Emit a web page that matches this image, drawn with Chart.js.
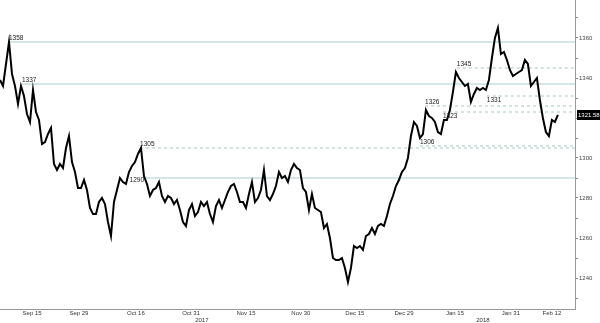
<!DOCTYPE html>
<html>
<head>
<meta charset="utf-8">
<script src="https://cdn.jsdelivr.net/npm/chart.js@4"></script>
<style>
  html, body { margin: 0; padding: 0; background: #fff; }
  #wrap { width: 600px; height: 323px; }
</style>
</head>
<body>
<div id="wrap"><canvas id="priceChart"></canvas></div>
<script>
// Price samples, evenly spaced in trading time (Sep 2017 - Feb 2018)
const prices = [
  1339, 1336, 1347, 1358, 1342, 1336, 1327, 1336, 1331, 1322,
  1318, 1334, 1323, 1319, 1307, 1308, 1312, 1315, 1297, 1294,
  1297, 1295, 1305, 1311, 1298, 1293, 1285, 1285, 1289, 1284,
  1275, 1272, 1272, 1278, 1280, 1277, 1268, 1261, 1278, 1284,
  1290, 1288, 1287, 1293, 1296, 1298, 1302, 1305, 1291, 1287,
  1281, 1284, 1285, 1288, 1281, 1278, 1281, 1280, 1277, 1279,
  1274, 1268, 1266, 1274, 1277, 1271, 1273, 1278, 1276, 1278,
  1272, 1268, 1276, 1279, 1275, 1279, 1283, 1286, 1287, 1283,
  1278, 1278, 1275, 1282, 1288, 1278, 1280, 1284, 1294, 1281,
  1279, 1282, 1286, 1293, 1290, 1291, 1288, 1294, 1297, 1295,
  1294, 1285, 1283, 1274, 1282, 1275, 1274, 1273, 1265, 1267,
  1260, 1250, 1249, 1249, 1250, 1245, 1238, 1245, 1256, 1255,
  1256, 1254, 1261, 1262, 1265, 1262, 1266, 1267, 1266, 1271,
  1277, 1281, 1286, 1289, 1293, 1295, 1300, 1311, 1318, 1316,
  1310, 1312, 1324, 1321, 1320, 1318, 1313, 1312, 1319, 1319,
  1324, 1333, 1343, 1340, 1338, 1336, 1337, 1328, 1332, 1335,
  1334, 1335, 1334, 1339, 1350, 1360, 1365, 1352, 1353, 1349,
  1344, 1341, 1342, 1343, 1344, 1349, 1347, 1336, 1338, 1340,
  1329, 1320, 1313, 1311, 1319, 1318, 1321.58
];

// date tick labels and the sample index where each falls
const dateLabels = ['Sep 15', 'Sep 29', 'Oct 16', 'Oct 31', 'Nov 15', 'Nov 30',
                    'Dec 15', 'Dec 29', 'Jan 15', 'Jan 31', 'Feb 12'];
const dateIndex = [10.7, 26.3, 45.3, 63.7, 82, 100.3, 118.3, 134.7, 151.7, 170.3, 184];
const yearLabels = ['2017', '2018'];
const yearIndex = [67.3, 161];

// support / resistance levels and the sample index they start from
const solidLevels = [1358, 1337, 1290];
const solidStart = [3, 7.3, 47.7];
const dashedLevels = [1305, 1306, 1326, 1323, 1345, 1331];
const dashedStart = [46.7, 140, 141.7, 147.7, 152.3, 162.3];

const xEnd = 191.7;
// label placement per level: 'above' / 'below' / 'left'
const solidPlace = ['above', 'above', 'left'];
const dashedPlace = ['above', 'above', 'above', 'below', 'above', 'below'];

const levelSets = [];
solidLevels.forEach((v, i) => {
    levelSets.push({
        data: [{x: solidStart[i], y: v}, {x: xEnd, y: v}],
        borderColor: '#a9cccc',
        borderWidth: 1,
        pointRadius: 0,
        levelLabel: String(v),
        place: solidPlace[i]
    });
});
dashedLevels.forEach((v, i) => {
    levelSets.push({
        data: [{x: dashedStart[i], y: v}, {x: xEnd, y: v}],
        borderColor: '#a9c4c4',
        borderWidth: 1,
        borderDash: [3, 3],
        pointRadius: 0,
        levelLabel: String(v),
        place: dashedPlace[i]
    });
});

const levelLabels = {
    id: 'levelLabels',
    afterDatasetsDraw(chart) {
        const {ctx, scales: {x, y}} = chart;
        ctx.save();
        ctx.font = '6.5px "Liberation Sans", Arial, sans-serif';
        ctx.fillStyle = '#222';
        chart.data.datasets.forEach(ds => {
            if (!ds.levelLabel) return;
            const px = x.getPixelForValue(ds.data[0].x);
            const py = y.getPixelForValue(ds.data[0].y);
            if (ds.place === 'above') {
                ctx.textAlign = 'left'; ctx.textBaseline = 'bottom';
                ctx.fillText(ds.levelLabel, px, py - 1);
            } else if (ds.place === 'below') {
                ctx.textAlign = 'left'; ctx.textBaseline = 'top';
                ctx.fillText(ds.levelLabel, px, py + 1);
            } else {
                ctx.textAlign = 'right'; ctx.textBaseline = 'middle';
                ctx.fillText(ds.levelLabel, px + 1, py + 2);
            }
        });
        ctx.restore();
    }
};

const extras = {
    id: 'extras',
    afterDraw(chart) {
        const {ctx, scales: {x, y}} = chart;
        ctx.save();
        // year labels under the date ticks
        ctx.font = '6px "Liberation Sans", Arial, sans-serif';
        ctx.fillStyle = '#333';
        ctx.textAlign = 'center';
        ctx.textBaseline = 'middle';
        yearLabels.forEach((t, i) => ctx.fillText(t, x.getPixelForValue(yearIndex[i]), 320));
        // last price box
        const last = prices[prices.length - 1];
        const py = Math.round(y.getPixelForValue(last));
        ctx.fillStyle = '#000';
        ctx.fillRect(577, py - 5, 23, 10);
        ctx.fillStyle = '#fff';
        ctx.textAlign = 'left';
        ctx.fillText(last.toFixed(2), 578, py + 0.5);
        ctx.restore();
    }
};

const ctx = document.getElementById('priceChart').getContext('2d');
const priceChart = new Chart(ctx, {
    type: 'line',
    data: {
        datasets: [{
            data: prices.map((p, i) => ({x: i, y: p})),
            borderColor: '#000',
            borderWidth: 2,
            pointRadius: 0,
            tension: 0
        }].concat(levelSets)
    },
    options: {
        responsive: true,
        maintainAspectRatio: false,
        animation: false,
        layout: { padding: 0 },
        plugins: { legend: { display: false }, tooltip: { enabled: false } },
        scales: {
            x: {
                type: 'linear',
                min: 0,
                max: xEnd,
                afterBuildTicks(scale) {
                    scale.ticks = dateIndex.map(v => ({value: v}));
                },
                afterFit(scale) {
                    scale.height = 14;
                    scale.paddingLeft = 0;
                    scale.paddingRight = 0;
                },
                ticks: {
                    autoSkip: false,
                    maxRotation: 0,
                    padding: 1,
                    color: '#333',
                    font: { size: 6, family: '"Liberation Sans", Arial, sans-serif' },
                    callback: (v, i) => dateLabels[i]
                },
                grid: { display: false, drawTicks: false },
                border: { display: true, color: '#999' }
            },
            y: {
                position: 'right',
                min: 1224.5,
                max: 1379,
                afterFit(scale) {
                    scale.width = 25;
                    scale.paddingTop = 0;
                    scale.paddingBottom = 0;
                },
                ticks: {
                    stepSize: 10,
                    includeBounds: false,
                    padding: 1,
                    color: '#444',
                    font: { size: 6, family: '"Liberation Sans", Arial, sans-serif' },
                    callback: v => (v % 20 === 0 ? v : '')
                },
                grid: { drawOnChartArea: false, tickLength: 3, color: '#888' },
                border: { display: true, color: '#999' }
            }
        }
    },
    plugins: [levelLabels, extras]
});
</script>
</body>
</html>
